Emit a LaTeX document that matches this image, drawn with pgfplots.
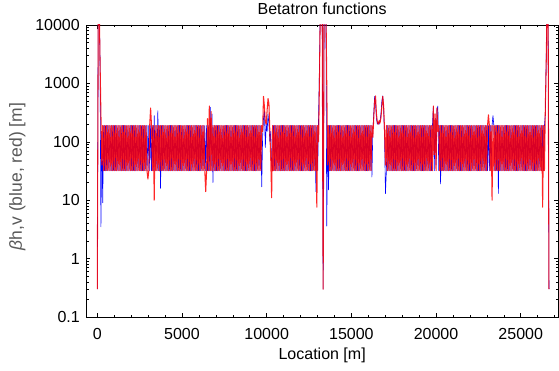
\documentclass[border=0pt]{standalone}
\usepackage{pgfplots}
\pgfplotsset{compat=1.18}
\usepackage{pgfplotstable}
\usepackage{fontspec}
\setmainfont{Liberation Sans}
\pgfplotstableread[row sep=\\]{
s bx by\\
0 0.3 0.3\\ 53 12000 12000\\ 107 30000 30000\\
160 2500 2500\\ 213 3.5 300\\ 267 150 40\\
320 9 190\\ 373 190 32\\ 427 32 190\\
480 190 32\\ 533 32 190\\ 587 190 32\\
640 32 190\\ 693 190 32\\ 747 32 190\\
800 190 32\\ 853 32 190\\ 907 190 32\\
960 32 190\\ 1013 190 32\\ 1067 32 190\\
1120 190 32\\ 1173 32 190\\ 1227 190 32\\
1280 32 190\\ 1333 190 32\\ 1387 32 190\\
1440 190 32\\ 1493 32 190\\ 1547 190 32\\
1600 32 190\\ 1653 190 32\\ 1707 32 190\\
1760 190 32\\ 1813 32 190\\ 1867 190 32\\
1920 32 190\\ 1973 190 32\\ 2027 32 190\\
2080 190 32\\ 2133 32 190\\ 2187 190 32\\
2240 32 190\\ 2293 190 32\\ 2347 32 190\\
2400 190 32\\ 2453 32 190\\ 2507 190 32\\
2560 32 190\\ 2613 190 32\\ 2667 32 190\\
2720 190 32\\ 2773 32 190\\ 2827 190 32\\
2880 32 190\\ 2933 190 32\\ 2987 32 23\\
3040 190 32\\ 3093 32 190\\ 3147 190 380\\
3200 32 190\\ 3253 190 32\\ 3307 32 190\\
3360 280 10\\ 3413 32 190\\ 3467 190 32\\
3520 32 190\\ 3573 340 32\\ 3627 32 190\\
3680 190 32\\ 3733 16 190\\ 3787 190 32\\
3840 32 190\\ 3893 190 32\\ 3947 32 190\\
4000 190 32\\ 4053 32 190\\ 4107 190 32\\
4160 32 190\\ 4213 190 32\\ 4267 32 190\\
4320 190 32\\ 4373 32 190\\ 4427 190 32\\
4480 32 190\\ 4533 190 32\\ 4587 32 190\\
4640 190 32\\ 4693 32 190\\ 4747 190 32\\
4800 32 190\\ 4853 190 32\\ 4907 32 190\\
4960 190 32\\ 5013 32 190\\ 5067 190 32\\
5120 32 190\\ 5173 190 32\\ 5227 32 190\\
5280 190 32\\ 5333 32 190\\ 5387 190 32\\
5440 32 190\\ 5493 190 32\\ 5547 32 190\\
5600 190 32\\ 5653 32 190\\ 5707 190 32\\
5760 32 190\\ 5813 190 32\\ 5867 32 190\\
5920 190 32\\ 5973 32 190\\ 6027 190 32\\
6080 32 190\\ 6133 190 32\\ 6187 32 190\\
6240 190 32\\ 6293 32 190\\ 6347 190 32\\
6400 32 14\\ 6453 190 32\\ 6507 32 250\\
6560 190 32\\ 6613 32 410\\ 6667 390 32\\
6720 32 330\\ 6773 300 32\\ 6827 20 190\\
6880 190 32\\ 6933 32 190\\ 6987 190 32\\
7040 32 190\\ 7093 190 32\\ 7147 32 190\\
7200 190 32\\ 7253 32 190\\ 7307 190 32\\
7360 32 190\\ 7413 190 32\\ 7467 32 190\\
7520 190 32\\ 7573 32 190\\ 7627 190 32\\
7680 32 190\\ 7733 190 32\\ 7787 32 190\\
7840 190 32\\ 7893 32 190\\ 7947 190 32\\
8000 32 190\\ 8053 190 32\\ 8107 32 190\\
8160 190 32\\ 8213 32 190\\ 8267 190 32\\
8320 32 190\\ 8373 190 32\\ 8427 32 190\\
8480 190 32\\ 8533 32 190\\ 8587 190 32\\
8640 32 190\\ 8693 190 32\\ 8747 32 190\\
8800 190 32\\ 8853 32 190\\ 8907 190 32\\
8960 32 190\\ 9013 190 32\\ 9067 32 190\\
9120 190 32\\ 9173 32 190\\ 9227 190 32\\
9280 32 190\\ 9333 190 32\\ 9387 32 190\\
9440 190 32\\ 9493 32 190\\ 9547 190 32\\
9600 32 190\\ 9653 190 32\\ 9707 17 190\\
9760 120 150\\ 9813 250 600\\ 9867 340 400\\
9920 80 220\\ 9973 200 200\\ 10027 150 350\\
10080 300 550\\ 10133 200 450\\ 10187 100 150\\
10240 150 50\\ 10293 40 11\\ 10347 32 190\\
10400 190 32\\ 10453 32 190\\ 10507 190 32\\
10560 32 190\\ 10613 190 32\\ 10667 32 190\\
10720 190 32\\ 10773 32 190\\ 10827 190 32\\
10880 32 190\\ 10933 190 32\\ 10987 32 190\\
11040 190 32\\ 11093 32 190\\ 11147 190 32\\
11200 32 190\\ 11253 190 32\\ 11307 32 190\\
11360 190 32\\ 11413 32 190\\ 11467 190 32\\
11520 32 190\\ 11573 190 32\\ 11627 32 190\\
11680 190 32\\ 11733 32 190\\ 11787 190 32\\
11840 32 190\\ 11893 190 32\\ 11947 32 190\\
12000 190 32\\ 12053 32 190\\ 12107 190 32\\
12160 32 190\\ 12213 190 32\\ 12267 32 190\\
12320 190 32\\ 12373 32 190\\ 12427 190 32\\
12480 32 190\\ 12533 190 32\\ 12587 32 190\\
12640 190 32\\ 12693 32 190\\ 12747 190 32\\
12800 32 190\\ 12853 190 32\\ 12907 14 190\\
12960 190 7.6\\ 13013 32 190\\ 13067 300 100\\
13120 2000 1500\\ 13173 30000 30000\\ 13227 30000 30000\\
13280 12000 12000\\ 13333 0.3 0.3\\ 13387 12000 12000\\
13440 30000 30000\\ 13493 30000 30000\\ 13547 3.6 1000\\
13600 190 40\\ 13653 15 190\\ 13707 190 32\\
13760 32 190\\ 13813 190 32\\ 13867 32 190\\
13920 190 32\\ 13973 32 190\\ 14027 190 32\\
14080 32 190\\ 14133 190 32\\ 14187 32 190\\
14240 190 32\\ 14293 32 190\\ 14347 190 32\\
14400 32 190\\ 14453 190 32\\ 14507 32 190\\
14560 190 32\\ 14613 32 190\\ 14667 190 32\\
14720 32 190\\ 14773 190 32\\ 14827 32 190\\
14880 190 32\\ 14933 32 190\\ 14987 190 32\\
15040 32 190\\ 15093 190 32\\ 15147 32 190\\
15200 190 32\\ 15253 32 190\\ 15307 190 32\\
15360 32 190\\ 15413 190 32\\ 15467 32 190\\
15520 190 32\\ 15573 32 190\\ 15627 190 32\\
15680 32 190\\ 15733 190 32\\ 15787 32 190\\
15840 190 32\\ 15893 32 190\\ 15947 190 32\\
16000 32 190\\ 16053 190 32\\ 16107 32 190\\
16160 190 32\\ 16213 25 190\\ 16267 150 120\\
16320 300 250\\ 16373 600 500\\ 16427 450 610\\
16480 250 300\\ 16533 200 220\\ 16587 220 200\\
16640 200 230\\ 16693 230 210\\ 16747 300 260\\
16800 500 400\\ 16853 610 600\\ 16907 350 400\\
16960 120 150\\ 17013 13 40\\ 17067 32 190\\
17120 190 32\\ 17173 32 190\\ 17227 190 32\\
17280 32 190\\ 17333 190 32\\ 17387 32 190\\
17440 190 32\\ 17493 32 190\\ 17547 190 32\\
17600 32 190\\ 17653 190 32\\ 17707 32 190\\
17760 190 32\\ 17813 32 190\\ 17867 190 32\\
17920 32 190\\ 17973 190 32\\ 18027 32 190\\
18080 190 32\\ 18133 32 190\\ 18187 190 32\\
18240 32 190\\ 18293 190 32\\ 18347 32 190\\
18400 190 32\\ 18453 32 190\\ 18507 190 32\\
18560 32 190\\ 18613 190 32\\ 18667 32 190\\
18720 190 32\\ 18773 32 190\\ 18827 190 32\\
18880 32 190\\ 18933 190 32\\ 18987 32 190\\
19040 190 32\\ 19093 32 190\\ 19147 190 32\\
19200 32 190\\ 19253 190 32\\ 19307 32 190\\
19360 190 32\\ 19413 32 190\\ 19467 190 32\\
19520 32 190\\ 19573 190 32\\ 19627 32 190\\
19680 190 32\\ 19733 32 190\\ 19787 190 32\\
19840 400 410\\ 19893 32 60\\ 19947 250 300\\
20000 40 32\\ 20053 350 380\\ 20107 410 150\\
20160 32 190\\ 20213 190 32\\ 20267 19 190\\
20320 190 32\\ 20373 32 190\\ 20427 190 32\\
20480 32 190\\ 20533 190 32\\ 20587 32 190\\
20640 190 32\\ 20693 32 190\\ 20747 190 32\\
20800 32 190\\ 20853 190 32\\ 20907 32 190\\
20960 190 32\\ 21013 32 190\\ 21067 190 32\\
21120 32 190\\ 21173 190 32\\ 21227 32 190\\
21280 190 32\\ 21333 32 190\\ 21387 190 32\\
21440 32 190\\ 21493 190 32\\ 21547 32 190\\
21600 190 32\\ 21653 32 190\\ 21707 190 32\\
21760 32 190\\ 21813 190 32\\ 21867 32 190\\
21920 190 32\\ 21973 32 190\\ 22027 190 32\\
22080 32 190\\ 22133 190 32\\ 22187 32 190\\
22240 190 32\\ 22293 32 190\\ 22347 190 32\\
22400 32 190\\ 22453 190 32\\ 22507 32 190\\
22560 190 32\\ 22613 32 190\\ 22667 190 32\\
22720 32 190\\ 22773 190 32\\ 22827 32 190\\
22880 190 32\\ 22933 32 190\\ 22987 190 32\\
23040 32 190\\ 23093 190 290\\ 23147 32 190\\
23200 190 32\\ 23253 32 190\\ 23307 190 10\\
23360 280 190\\ 23413 190 32\\ 23467 32 190\\
23520 190 32\\ 23573 32 190\\ 23627 190 32\\
23680 13 190\\ 23733 190 32\\ 23787 32 190\\
23840 190 32\\ 23893 32 190\\ 23947 190 32\\
24000 32 190\\ 24053 190 32\\ 24107 32 190\\
24160 190 32\\ 24213 32 190\\ 24267 190 32\\
24320 32 190\\ 24373 190 32\\ 24427 32 190\\
24480 190 32\\ 24533 32 190\\ 24587 190 32\\
24640 32 190\\ 24693 190 32\\ 24747 32 190\\
24800 190 32\\ 24853 32 190\\ 24907 190 32\\
24960 32 190\\ 25013 190 32\\ 25067 32 190\\
25120 190 32\\ 25173 32 190\\ 25227 190 32\\
25280 32 190\\ 25333 190 32\\ 25387 32 190\\
25440 190 32\\ 25493 32 190\\ 25547 190 32\\
25600 32 190\\ 25653 190 32\\ 25707 32 190\\
25760 190 32\\ 25813 32 190\\ 25867 190 32\\
25920 32 190\\ 25973 190 32\\ 26027 32 190\\
26080 190 32\\ 26133 32 190\\ 26187 190 32\\
26240 32 190\\ 26293 190 7.6\\ 26347 32 190\\
26400 190 32\\ 26453 300 400\\ 26507 3000 2500\\
26560 30000 30000\\ 26613 30000 30000\\ 26667 0.3 0.3\\
}\betadata
\begin{document}
\begin{tikzpicture}
\begin{axis}[
  scale only axis, width=471.7pt, height=292pt,
  xmin=-650, xmax=27200,
  ymode=log, ymin=0.1, ymax=10000,
  scaled x ticks=false,
  xtick={0,5000,10000,15000,20000,25000},
  xticklabels={0,5000,10000,15000,20000,25000},
  minor xtick={1000,2000,3000,4000,6000,7000,8000,9000,11000,12000,13000,14000,16000,17000,18000,19000,21000,22000,23000,24000,26000,27000},
  ytick={0.1,1,10,100,1000,10000},
  yticklabels={0.1,1,10,100,1000,10000},
  minor ytick={0.2,0.3,0.4,0.5,0.6,0.7,0.8,0.9,2,3,4,5,6,7,8,9,20,30,40,50,60,70,80,90,200,300,400,500,600,700,800,900,2000,3000,4000,5000,6000,7000,8000,9000},
  tick align=inside,
  major tick length=4pt, minor tick length=2.5pt,
  every tick/.style={black, line width=0.6pt},
  axis line style={line width=0.8pt},
  ticklabel style={font=\fontsize{16}{19}\selectfont},
  xticklabel style={anchor=base, yshift=-22pt},
  yticklabel style={xshift=-3pt},
]
\addplot[draw={rgb,255:red,0;green,0;blue,255}, line width=0.6pt, line join=round] table[x=s, y=bx] {\betadata};
\addplot[draw={rgb,255:red,255;green,0;blue,0}, line width=1.05pt, line join=round, draw opacity=0.85] table[x=s, y=by] {\betadata};
\end{axis}
\node[font=\fontsize{16}{19}\selectfont, anchor=base] at ([yshift=10pt]current axis.north) {Betatron functions};
\node[font=\fontsize{16}{19}\selectfont, anchor=base] at ([yshift=-42.5pt]current axis.south) {Location [m]};
\node[font=\fontsize{17.5}{20}\selectfont, rotate=90, anchor=center, text=black!65] at ([xshift=-69pt, yshift=-5.5pt]current axis.west) {\textit{β}h,v (blue, red) [m]};
\pgfresetboundingbox
\path[use as bounding box] ([xshift=-86.3pt,yshift=-53pt]current axis.south west) rectangle ([xshift=1pt,yshift=25pt]current axis.north east);
\end{tikzpicture}
\end{document}
